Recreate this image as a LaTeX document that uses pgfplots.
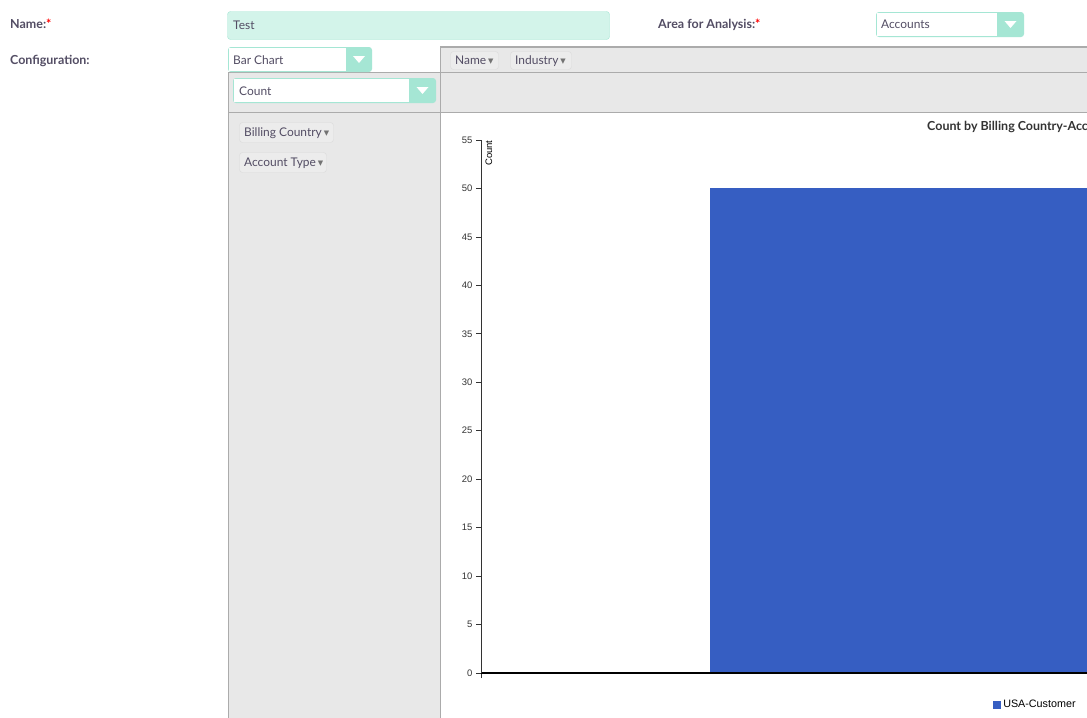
\documentclass[border=0pt]{standalone}
\usepackage{pgfplots}
\pgfplotsset{compat=1.18}
\usepackage{fontspec}
\setmainfont{Lato}
\newfontfamily\arial{Liberation Sans}
\newfontfamily\dejavu{DejaVu Sans}
\definecolor{mint}{HTML}{D3F4EA}
\definecolor{mintb}{HTML}{A5E6D4}
\definecolor{lbl}{HTML}{534D64}
\definecolor{band}{HTML}{E8E8E8}
\definecolor{linec}{HTML}{ABABAB}
\definecolor{chip}{HTML}{ECECEC}
\definecolor{chipb}{HTML}{DADADA}
\definecolor{barblue}{HTML}{365EC2}
\definecolor{axisc}{HTML}{333333}
\newcommand\tri{{\dejavu\fontsize{7}{7}\selectfont\color{black!55}\raisebox{1bp}{▼}}}
\begin{document}
\begin{tikzpicture}
\useasboundingbox (0,0) rectangle (1087bp,-718bp);
\clip (0,0) rectangle (1087bp,-718bp);
\begin{scope}[x=1bp,y=-1bp]
\fill[white] (0,0) rectangle (1087,718);
% gray areas
\fill[band] (440,46) rectangle (1087,112);
\fill[band] (228,72) rectangle (440,718);
\fill[white] (441,113) rectangle (1087,718);
% borders
\draw[linec,line width=1.5bp] (440,46.75) -- (1087,46.75);
\draw[linec,line width=1.2bp] (228,72.6) -- (1087,72.6);
\draw[linec,line width=1.8bp] (228,112.5) -- (1087,112.5);
\draw[linec,line width=1.5bp] (440.5,46) -- (440.5,718);
\draw[linec,line width=1.5bp] (228.5,72) -- (228.5,718);
% labels
\tikzset{lab/.style={anchor=base west,inner sep=0,text=lbl,font=\bfseries\fontsize{12.5}{14}\selectfont},
         txt/.style={anchor=base west,inner sep=0,text=lbl,font=\fontsize{12}{14}\selectfont}}
\node[lab] at (10,28.5) {Name:\textcolor{red}{*}};
\node[lab] at (10,64.5) {Configuration:};
\node[lab] at (658,28.5) {Area for Analysis:\textcolor{red}{*}};
% name field
\draw[mintb,fill=mint,rounded corners=3bp] (227.5,11.5) rectangle (609.5,39.5);
\node[txt] at (233,29.5) {Test};
% Accounts dropdown
\fill[mintb,rounded corners=3bp] (876,12) rectangle (1024,37);
\fill[white] (877,13) rectangle (997,36);
\fill[white] (1004.5,21) -- (1016.5,21) -- (1010.5,28) -- cycle;
\node[txt] at (881,28.5) {Accounts};
% Bar chart dropdown
\fill[mintb,rounded corners=3bp] (228,47) rectangle (372,72);
\fill[white] (229,48) rectangle (346,71);
\fill[white] (353,56) -- (365,56) -- (359,63) -- cycle;
\node[txt] at (233,64.5) {Bar Chart};
% Count dropdown
\fill[mintb,rounded corners=3bp] (233,78) rectangle (436,103);
\fill[white] (234,79) rectangle (409,102);
\fill[white] (416.5,87) -- (428.5,87) -- (422.5,94) -- cycle;
\node[txt] at (239,95.5) {Count};
% chips
\draw[chipb,fill=chip,rounded corners=3bp] (450.5,51.5) rectangle (498.5,69.5);
\node[txt] at (455,64.5) {Name\,\tri};
\draw[chipb,fill=chip,rounded corners=3bp] (510.5,51.5) rectangle (571.5,69.5);
\node[txt] at (515,64.5) {Industry\,\tri};
\draw[chipb,fill=chip,rounded corners=3bp] (239.5,122.5) rectangle (333.5,142.5);
\node[txt] at (244,136.5) {Billing Country\,\tri};
\draw[chipb,fill=chip,rounded corners=3bp] (239.5,152.5) rectangle (326.5,172.5);
\node[txt] at (244,166.5) {Account Type\,\tri};
\end{scope}
\begin{axis}[
  at={(481bp,-673bp)}, anchor=south west,
  scale only axis, width=606bp, height=533bp,
  xmin=0, xmax=1, ymin=0, ymax=55,
  axis on top,
  axis lines*=left,
  x axis line style={black, line width=1.2bp},
  y axis line style={axisc, line width=1bp},
  ytick={0,5,...,55},
  xtick={0}, xticklabels={},
  tick align=outside,
  major tick length=5bp,
  tick style={axisc, line width=0.8bp},
  /pgf/number format/assume math mode=true,
  yticklabel style={font=\arial\fontsize{9.5}{11}\selectfont, text=axisc},
  ylabel={Count},
  ylabel style={at={(rel axis cs:0,1)}, anchor=north east, font=\arial\fontsize{9.5}{10}\selectfont, xshift=3bp, yshift=-1bp, text=black},
  title={Count by Billing Country-Account Type},
  title style={at={(rel axis cs:0.736,1.0065)}, anchor=base west, inner sep=0, font=\bfseries\fontsize{12.5}{14}\selectfont, text=axisc},
  legend style={at={(rel axis cs:0.845,-0.06)}, anchor=west, draw=none, fill=none, inner sep=0, font=\arial\fontsize{10.8}{12}\selectfont},
]
\addplot[ybar, fill=barblue, draw=none, bar width=1.244,
  legend image code/.code={\fill[barblue] (0bp,-4bp) rectangle (8bp,4bp);}] coordinates {(1,50)};
\addlegendentry{USA-Customer}
\end{axis}
\end{tikzpicture}
\end{document}
